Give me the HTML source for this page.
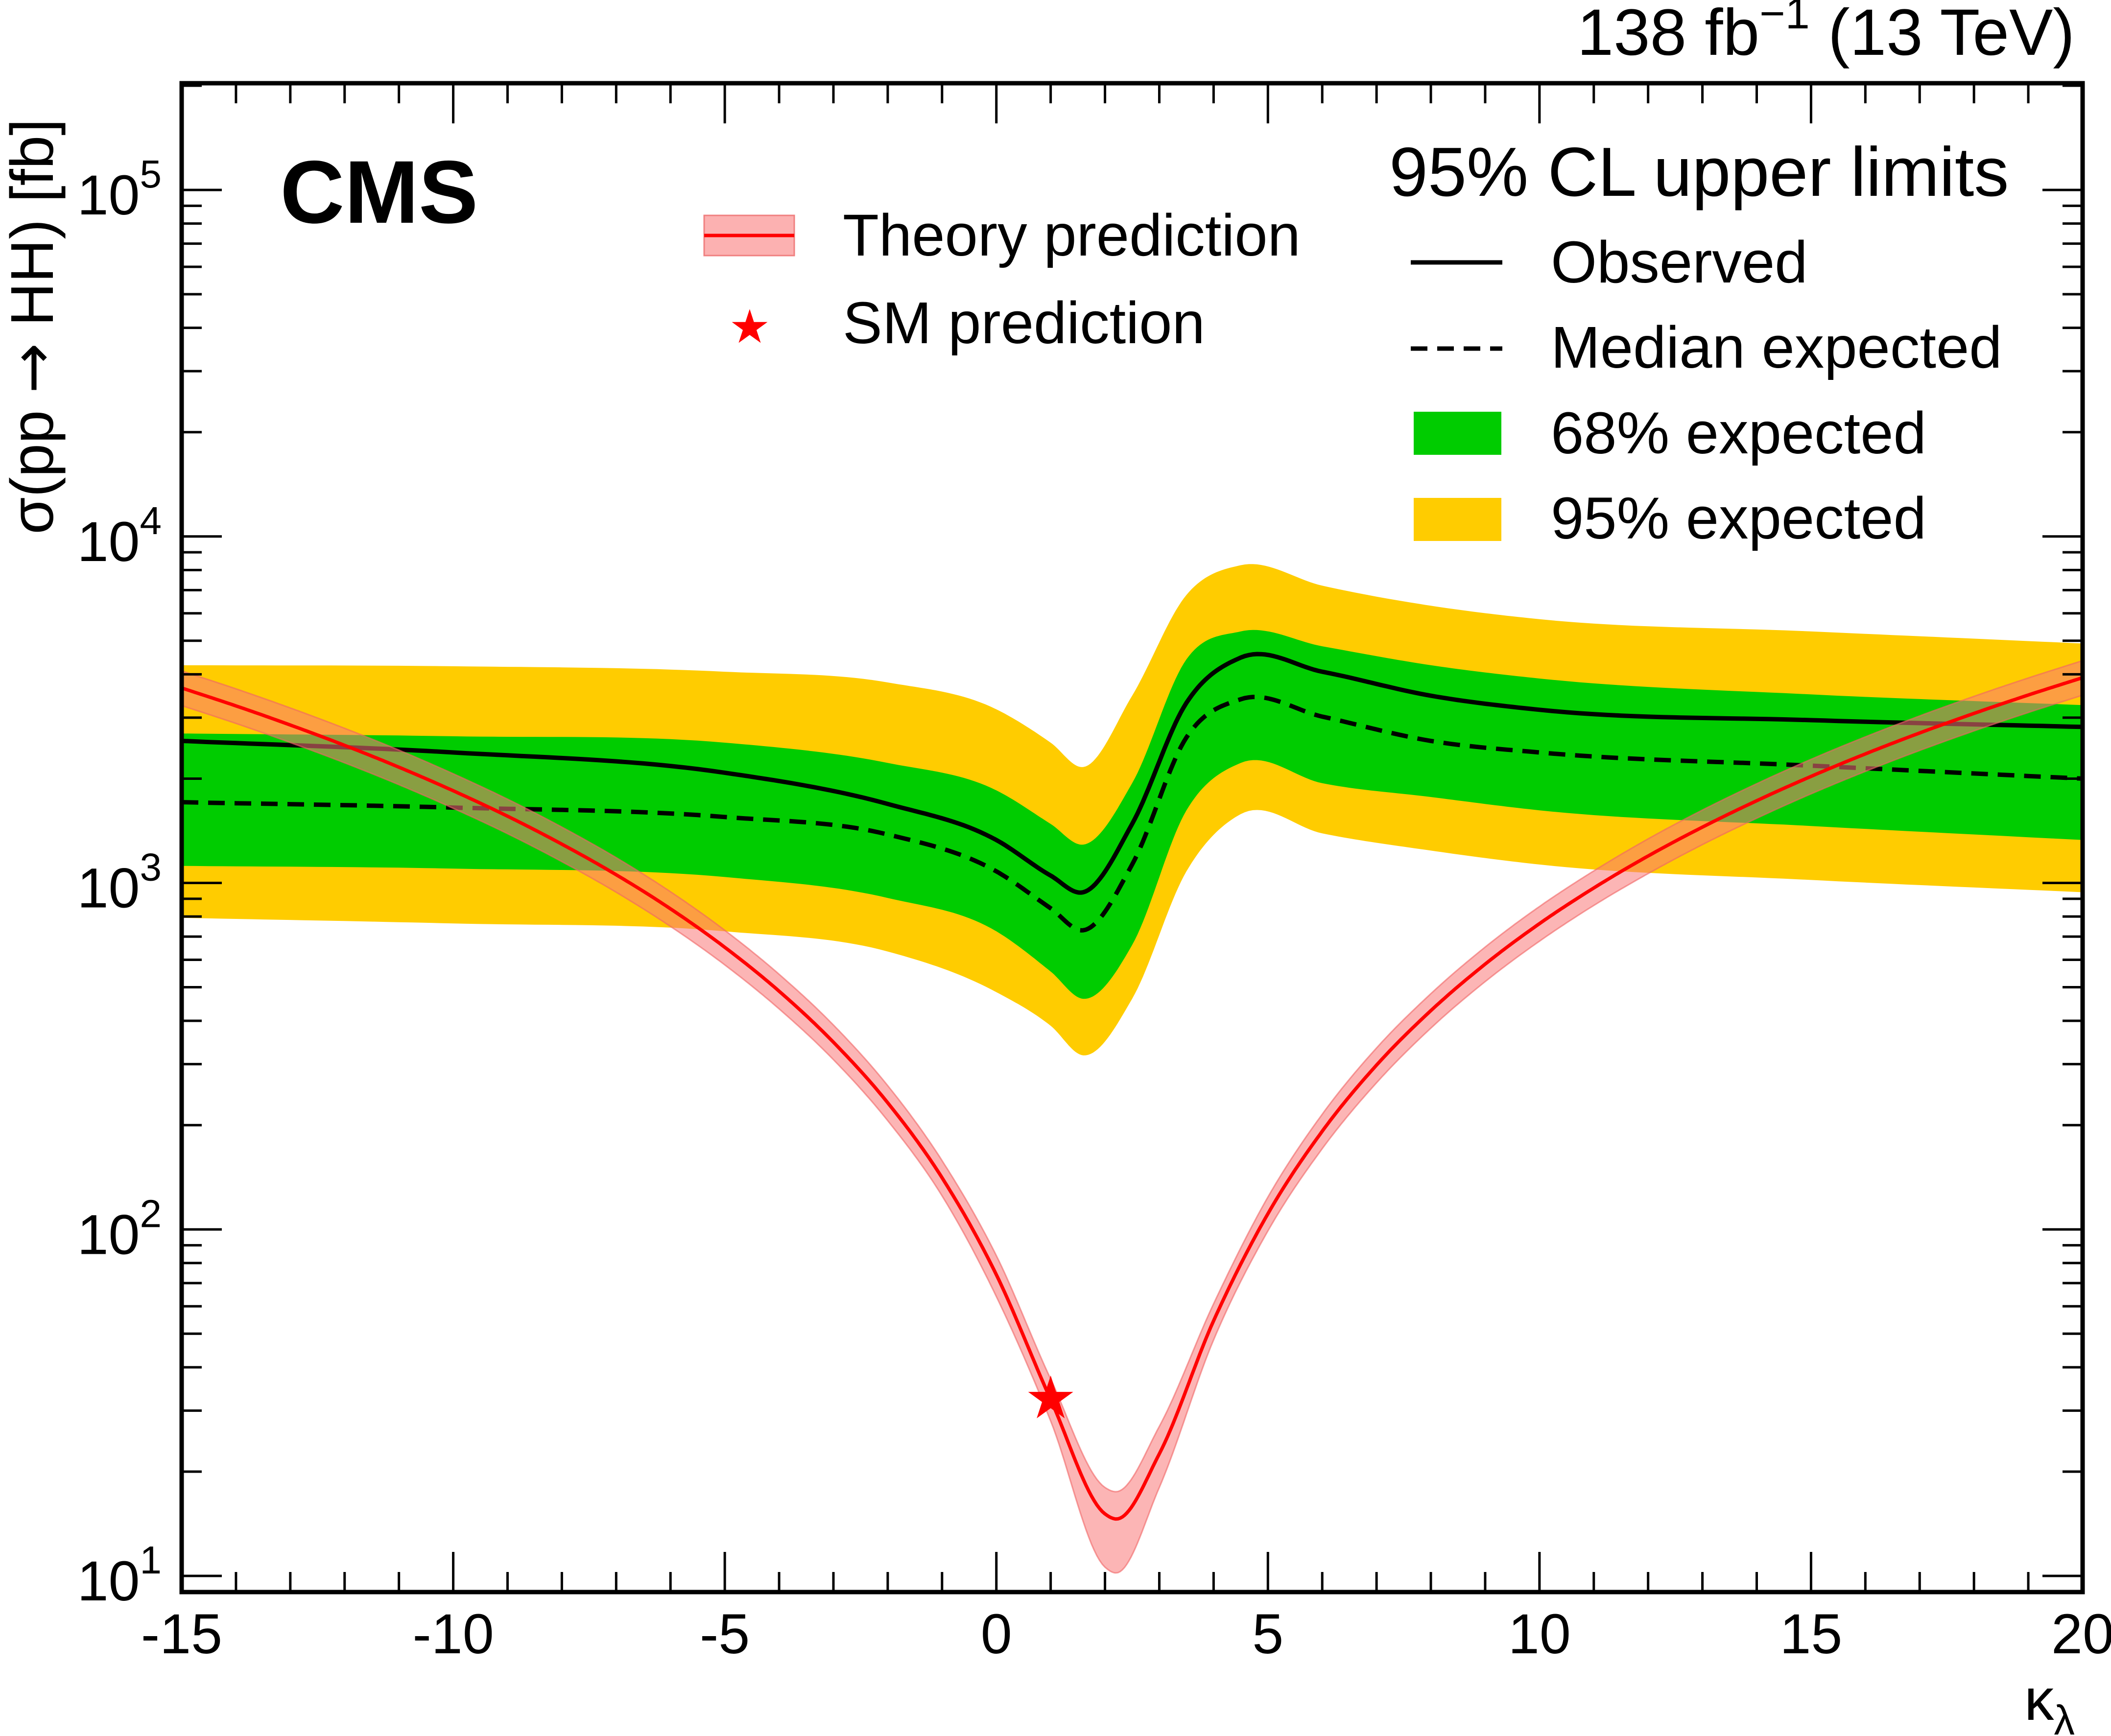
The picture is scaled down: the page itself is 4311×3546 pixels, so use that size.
<!DOCTYPE html>
<html><head><meta charset="utf-8"><style>
html,body{margin:0;padding:0;background:#fff;}
svg{display:block;font-family:"Liberation Sans",Arial,sans-serif;}
</style></head><body>
<svg id="chart" width="4311" height="3546" viewBox="0 0 4311 3546" xmlns="http://www.w3.org/2000/svg">
<g id="bands"></g>
<g id="axes"></g>
<g>
<text x="4237" y="112" font-size="134" text-anchor="end">138 fb<tspan font-size="90" dy="-54">−1</tspan><tspan dy="54"> (13 TeV)</tspan></text>
<text x="572" y="455" font-size="182" font-weight="bold">CMS</text>
<text x="2837" y="400" font-size="142">95% CL upper limits</text>
<line x1="2881" y1="536" x2="3068" y2="536" stroke="#000" stroke-width="9"/>
<text x="3167" y="577" font-size="121">Observed</text>
<line x1="2881" y1="712" x2="3068" y2="712" stroke="#000" stroke-width="9" stroke-dasharray="34,20"/>
<text x="3167" y="751" font-size="121">Median expected</text>
<rect x="2887" y="841" width="179" height="88" fill="#00cc00"/>
<text x="3167" y="926" font-size="121">68% expected</text>
<rect x="2887" y="1017" width="179" height="88" fill="#ffcc00"/>
<text x="3167" y="1100" font-size="121">95% expected</text>
<rect x="1438" y="440" width="184" height="82" fill="#fcb1b1" stroke="#f08080" stroke-width="3"/>
<line x1="1438" y1="481" x2="1622" y2="481" stroke="#ff0000" stroke-width="7"/>
<text x="1721" y="522" font-size="121">Theory prediction</text>
<text x="1531" y="700" font-size="95" fill="#ff0000" text-anchor="middle">★</text>
<text x="1721" y="701" font-size="121">SM prediction</text>
<text x="4237" y="3513" font-size="121" text-anchor="end">κ<tspan font-size="85" dy="30">λ</tspan></text>
<text transform="translate(108,667) rotate(-90)" font-size="123" text-anchor="middle">σ(pp <tspan font-family="DejaVu Sans" font-size="123">→</tspan> HH) [fb]</text>
</g>
</svg>
<script>
const kTheory=[-15,-14,-13,-12,-11,-10,-9,-8,-7,-6,-5,-4,-3,-2,-1,0,1,2,2.2,3,4,5,6,7,8,9,10,11,12,13,14,15,16,17,18,19,20];
const theory=[3653,3243,2856,2495,2158,1845,1558,1294,1056,842,652,487,347,232,141,74,32.3,15.1,14.6,22.5,54.5,111,192,298,428,583,763,967,1196,1449,1727,2030,2357,2709,3085,3486,3912];
const theoryLo=[3250,2886,2542,2221,1921,1642,1387,1152,940,749,580,433,309,206,125,64,28,10.6,10.2,18,48,99,171,265,381,519,679,861,1064,1290,1537,1807,2098,2411,2746,3103,3482];
const theoryHi=[4091,3632,3199,2794,2417,2066,1745,1449,1183,943,730,545,389,260,158,84,37,18,17.5,27,61,124,215,334,479,653,855,1083,1340,1623,1934,2274,2640,3034,3455,3904,4381];
const kLim=[-15,-10,-5,-2,0,1,1.6,2.5,3.5,4.5,6,8,10,15,20];
const observed=[2570,2380,2080,1690,1330,1050,940,1480,3310,4470,4070,3470,3160,2950,2820];
const expected=[1710,1650,1550,1380,1080,845,730,1130,2630,3390,3020,2570,2380,2180,2000];
const up68=[2700,2650,2540,2220,1850,1480,1290,1940,4420,5320,4820,4250,3890,3500,3260];
const lo68=[1120,1100,1040,905,725,555,463,662,1620,2220,1940,1770,1620,1460,1330];
const up95=[4250,4220,4070,3790,3170,2540,2160,3470,6780,8260,7210,6310,5770,5320,4910];
const lo95=[793,764,725,634,484,387,318,463,1080,1580,1390,1240,1130,1020,940];
const smPoint=[1,32.5];
const xTicks=[-15,-10,-5,0,5,10,15,20];
const yTicks=[1,2,3,4,5];

const L=371,R=4253,T=170,B=3252;
const X=k=>L+(k+15)/35*(R-L);
const Y=v=>3219-(Math.log10(v)-1)*707.75;
const NS="http://www.w3.org/2000/svg";
function mk(tag,attrs,parent){const e=document.createElementNS(NS,tag);for(const a in attrs)e.setAttribute(a,attrs[a]);parent.appendChild(e);return e;}
function smooth(ks,vs,n){const pts=[];const lv=vs.map(v=>Math.log10(v));const N=ks.length;
 const m=lv.map((p,i)=>{if(i===0)return (lv[1]-lv[0])/(ks[1]-ks[0]);if(i===N-1)return (lv[N-1]-lv[N-2])/(ks[N-1]-ks[N-2]);
  const d0=(lv[i]-lv[i-1])/(ks[i]-ks[i-1]),d1=(lv[i+1]-lv[i])/(ks[i+1]-ks[i]);const h0=ks[i]-ks[i-1],h1=ks[i+1]-ks[i];return (d0*h1+d1*h0)/(h0+h1);});
 for(let i=0;i<N-1;i++){const h=ks[i+1]-ks[i],p1=lv[i],p2=lv[i+1],m1=m[i]*h,m2=m[i+1]*h;
  for(let j=0;j<n;j++){const t=j/n,t2=t*t,t3=t2*t;
   const v=(2*t3-3*t2+1)*p1+(t3-2*t2+t)*m1+(-2*t3+3*t2)*p2+(t3-t2)*m2;
   pts.push([X(ks[i]+h*t),3219-(v-1)*707.75]);}}
 pts.push([X(ks[N-1]),Y(vs[N-1])]);return pts;}
const line=p=>p.map((q,i)=>(i?'L':'M')+q[0].toFixed(1)+' '+q[1].toFixed(1)).join('');
const band=(ks,a,b)=>{const u=smooth(ks,a,20),l=smooth(ks,b,20).reverse();return line(u.concat(l))+'Z';};

const g=document.getElementById('bands');
const clip=mk('clipPath',{id:'pc'},g);mk('rect',{x:L,y:T,width:R-L,height:B-T},clip);
const pg=mk('g',{'clip-path':'url(#pc)'},g);
let e;
e=mk('path',{d:band(kLim,up95,lo95),fill:'#ffcc00'},pg);


e=mk('path',{d:band(kLim,up68,lo68),fill:'#00cc00'},pg);


e=mk('path',{d:line(smooth(kLim,expected,20)),fill:'none',stroke:'#000','stroke-width':9,'stroke-dasharray':'34,20'},pg);


e=mk('path',{d:line(smooth(kLim,observed,20)),fill:'none',stroke:'#000','stroke-width':9},pg);


e=mk('path',{d:band(kTheory,theoryHi,theoryLo),fill:'rgba(250,120,120,0.55)',stroke:'rgba(240,100,100,0.6)','stroke-width':3},pg);


e=mk('path',{d:line(smooth(kTheory,theory,20)),fill:'none',stroke:'#ff0000','stroke-width':7},pg);


e=mk('text',{x:X(smPoint[0]),y:Y(smPoint[1])+40,'font-size':120,fill:'#ff0000','text-anchor':'middle'},pg);
e.textContent='★';



const ax=document.getElementById('axes');
e=mk('rect',{x:L,y:T,width:R-L,height:B-T,fill:'none',stroke:'#000','stroke-width':9},ax);


for(let k=-15;k<=20;k++){const maj=(k%5===0);const len=maj?82:41;const x=X(k);
 mk('line',{x1:x,y1:B,x2:x,y2:B-len,stroke:'#000','stroke-width':5},ax);
 mk('line',{x1:x,y1:T,x2:x,y2:T+len,stroke:'#000','stroke-width':5},ax);}
xTicks.forEach(k=>{const t=mk('text',{x:X(k),y:3377,'font-size':115,'text-anchor':'middle'},ax);t.textContent=String(k);
 
 });
for(let d=0;d<=5;d++){for(let m=1;m<=9;m++){const v=m*Math.pow(10,d);const y=Y(v);if(y<T||y>B)continue;const len=m===1?82:41;
 mk('line',{x1:L,y1:y,x2:L+len,y2:y,stroke:'#000','stroke-width':5},ax);
 mk('line',{x1:R,y1:y,x2:R-len,y2:y,stroke:'#000','stroke-width':5},ax);}}
yTicks.forEach(p=>{const y=Y(Math.pow(10,p));const t=mk('text',{x:330,y:y+50,'font-size':115,'text-anchor':'end'},ax);
 t.innerHTML='10<tspan font-size="80" dy="-55">'+p+'</tspan>';
 
 });
</script>
</body></html>
